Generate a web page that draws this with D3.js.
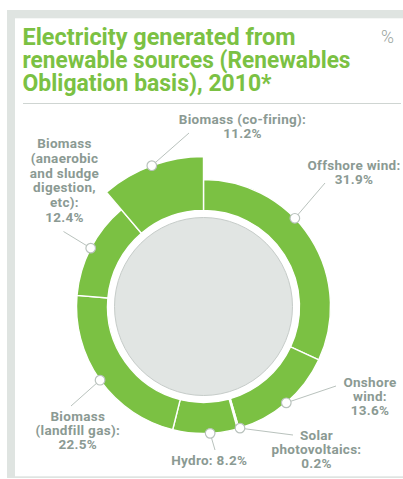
<!DOCTYPE html>
<html>
<head>
<meta charset="utf-8">
<script src="https://cdn.jsdelivr.net/npm/d3@7"></script>
<style>
  html, body { margin: 0; padding: 0; background: #fff; }
  svg { display: block; }
</style>
</head>
<body>
<svg id="chart" width="403" height="479"></svg>
<script>
// Share of electricity generated from renewable sources, 2010 (%), clockwise from 12 o'clock
const categories = [
  "Offshore wind",
  "Onshore wind",
  "Solar photovoltaics",
  "Hydro",
  "Biomass (landfill gas)",
  "Biomass (anaerobic and sludge digestion, etc)",
  "Biomass (co-firing)"
];
const shares = [31.9, 13.6, 0.2, 8.2, 22.5, 12.4, 11.2];
// Label text lines; the value is appended to the last line
const labelLines = [
  ["Offshore wind:", ""],
  ["Onshore", "wind:", ""],
  ["Solar", "photovoltaics:", ""],
  ["Hydro: "],
  ["Biomass", "(landfill gas):", ""],
  ["Biomass", "(anaerobic", "and sludge", "digestion,", "etc):", ""],
  ["Biomass (co-firing):", ""]
];
const titleLines = [
  "Electricity generated from",
  "renewable sources (Renewables",
  "Obligation basis), 2010*"
];
const unitLabel = "%";
const highlighted = "Biomass (co-firing)";

// ---- layout & style ----
const W = 403, H = 479;
const cx = 203.5, cy = 306.5;
const rInner = 96, rOuter = 127, rOuterHighlight = 150, rCore = 89;
const green = "#7bc143", textGray = "#8b9a93", lineGray = "#b9c2bd";
const FONT = "Roboto, 'Open Sans', sans-serif";
// title line widths (px) the headline is set to
const titleWidths = [273, 328, 249];

// label placement: dot angle override (deg), leader end, text anchor, line height
const labelLayout = [
  { dotDeg: 46,   end: [325, 183],   x: 354,   y: 170,   lh: 14 },
  { dotDeg: null, end: [336, 386],   x: 370,   y: 387.3, lh: 14 },
  { dotDeg: 163.3,end: [293, 435],   x: 316.5, y: 440,   lh: 14.2 },
  { dotDeg: 177,  end: [215, 450],   x: 209.2, y: 465,   lh: 14 },
  { dotDeg: null, end: [71, 406],    x: 77.8,  y: 421,   lh: 14.2 },
  { dotDeg: null, end: [63.5, 231.5],x: 64.5,  y: 148.3, lh: 14.7 },
  { dotDeg: null, end: [189, 133],   x: 242.5, y: 124,   lh: 14 }
];

const data = categories.map((c, i) => ({ name: c, value: shares[i], lines: labelLines[i], layout: labelLayout[i] }));

const svg = d3.select("#chart");

// card frame
const frame = svg.append("g");
frame.append("rect").attr("x", 7).attr("y", 10).attr("width", W - 7).attr("height", 8.3).attr("fill", "#dfe4e1");
frame.append("rect").attr("x", 7).attr("y", 10).attr("width", 8).attr("height", 467.5).attr("fill", "#dfe4e1");
frame.append("rect").attr("x", 7).attr("y", 476.3).attr("width", W - 7).attr("height", 1.7).attr("fill", "#dfe4e1");

// title
titleLines.forEach((t, i) => {
  svg.append("text")
    .attr("x", 22.5).attr("y", 45 + i * 22.8)
    .attr("font-family", FONT).attr("font-weight", 700).attr("font-size", 23.5)
    .attr("fill", green)
    .attr("textLength", titleWidths[i])
    .attr("lengthAdjust", "spacingAndGlyphs")
    .text(t);
});
svg.append("text")
  .attr("x", 381).attr("y", 43)
  .attr("font-family", FONT).attr("font-weight", 300).attr("font-size", 17.5).attr("fill", "#9aa5a0")
  .text(unitLabel);
svg.append("line")
  .attr("x1", 23).attr("x2", 401).attr("y1", 103.5).attr("y2", 103.5)
  .attr("stroke", "#cfd5d2").attr("stroke-width", 1);

// donut
const pie = d3.pie().value(d => d.value).sort(null);
const arcs = pie(data);
const arc = d3.arc()
  .innerRadius(rInner)
  .outerRadius(d => d.data.name === highlighted ? rOuterHighlight : rOuter);

const g = svg.append("g").attr("transform", `translate(${cx},${cy})`);
g.selectAll("path.slice")
  .data(arcs)
  .join("path")
  .attr("class", "slice")
  .attr("d", arc)
  .attr("fill", green)
  .attr("stroke", "#fff")
  .attr("stroke-width", 1.4)
  .attr("stroke-linejoin", "miter");

g.append("circle")
  .attr("r", rCore)
  .attr("fill", "#e1e5e3")
  .attr("stroke", "#c6ccc9")
  .attr("stroke-width", 1);

// leader lines, dots and labels
arcs.forEach(a => {
  const L = a.data.layout;
  const ang = L.dotDeg != null ? L.dotDeg * Math.PI / 180 : (a.startAngle + a.endAngle) / 2;
  const r = a.data.name === highlighted ? rOuterHighlight : rOuter;
  const dx = cx + r * Math.sin(ang), dy = cy - r * Math.cos(ang);

  svg.append("line")
    .attr("x1", dx).attr("y1", dy).attr("x2", L.end[0]).attr("y2", L.end[1])
    .attr("stroke", lineGray).attr("stroke-width", 1);
  svg.append("circle")
    .attr("cx", dx).attr("cy", dy).attr("r", 4.8)
    .attr("fill", "#fff").attr("stroke", lineGray).attr("stroke-width", 1.2);

  const lines = a.data.lines.slice();
  lines[lines.length - 1] = lines[lines.length - 1] + d3.format(".1f")(a.data.value) + "%";
  lines.forEach((t, i) => {
    svg.append("text")
      .attr("x", L.x).attr("y", L.y + i * L.lh)
      .attr("font-family", FONT).attr("font-weight", 700).attr("font-size", 13.5)
      .attr("letter-spacing", 0.3)
      .attr("fill", textGray).attr("text-anchor", "middle")
      .text(t);
  });
});
</script>
</body>
</html>
